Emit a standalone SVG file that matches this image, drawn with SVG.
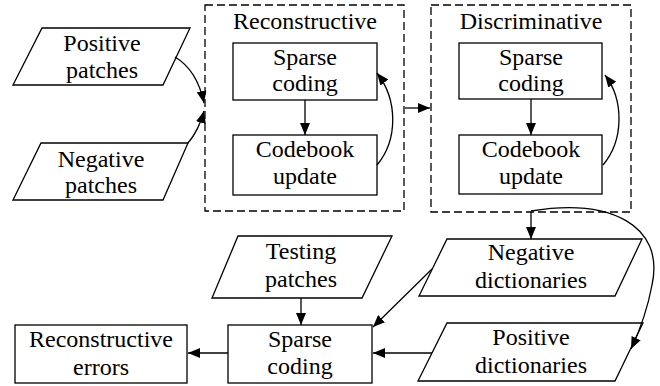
<svg xmlns="http://www.w3.org/2000/svg" width="660" height="386" viewBox="0 0 660 386">
<style>
.s{fill:#fff;stroke:#000;stroke-width:1.3}
.d{fill:none;stroke:#000;stroke-width:1.3;stroke-dasharray:8,4}
.c{fill:none;stroke:#000;stroke-width:1.3;marker-end:url(#ah)}
text{font-family:"Liberation Serif","Times New Roman",serif;font-size:24px;fill:#000;text-anchor:middle}
</style>
<defs>
<marker id="ah" markerUnits="userSpaceOnUse" markerWidth="12" markerHeight="10" refX="12" refY="5" orient="auto">
<path d="M0,0 L12,5 L0,10 z" fill="#000"/>
</marker>
</defs>
<rect width="660" height="386" fill="#fff"/>
<g id="reconstructive-group">
<rect class="d" x="205" y="5" width="199" height="206"/>
<text x="305" y="29">Reconstructive</text>
</g>
<g id="discriminative-group">
<rect class="d" x="431" y="5" width="200" height="207"/>
<text x="531" y="29">Discriminative</text>
</g>
<g id="positive-patches">
<polygon class="s" points="42,28 190,28 163,85 13,85"/>
<text x="102" y="51">Positive</text>
<text x="102" y="78">patches</text>
</g>
<g id="negative-patches">
<polygon class="s" points="41,143 188,143 163,200 13,200"/>
<text x="101" y="167">Negative</text>
<text x="101" y="193">patches</text>
</g>
<g id="r-sparse">
<rect class="s" x="233" y="43" width="144" height="57"/>
<text x="305" y="65">Sparse</text>
<text x="305" y="91">coding</text>
</g>
<g id="r-codebook">
<rect class="s" x="233" y="135" width="144" height="60"/>
<text x="305" y="157">Codebook</text>
<text x="305" y="184">update</text>
</g>
<g id="d-sparse">
<rect class="s" x="459" y="43" width="143" height="56"/>
<text x="531" y="65">Sparse</text>
<text x="531" y="91">coding</text>
</g>
<g id="d-codebook">
<rect class="s" x="459" y="135" width="143" height="59"/>
<text x="531" y="157">Codebook</text>
<text x="531" y="184">update</text>
</g>
<g id="testing-patches">
<polygon class="s" points="238,236 392,236 362,298 212,298"/>
<text x="301" y="259">Testing</text>
<text x="301" y="287">patches</text>
</g>
<g id="negative-dictionaries">
<polygon class="s" points="447,239 642,239 615,296 419,296"/>
<text x="531" y="260">Negative</text>
<text x="531" y="288">dictionaries</text>
</g>
<g id="positive-dictionaries">
<polygon class="s" points="447,323 643,323 615,381 418,381"/>
<text x="531" y="345">Positive</text>
<text x="531" y="373">dictionaries</text>
</g>
<g id="test-sparse">
<rect class="s" x="228" y="325" width="144" height="58"/>
<text x="300" y="347">Sparse</text>
<text x="300" y="374">coding</text>
</g>
<g id="reconstructive-errors">
<rect class="s" x="15" y="325" width="172" height="58"/>
<text x="101" y="347">Reconstructive</text>
<text x="101" y="375">errors</text>
</g>
<g id="connectors">
<path class="c" d="M175,57 Q197,70 204,103"/>
<path class="c" d="M188,143 Q199,130 204,111"/>
<path class="c" d="M305,100 L305,135"/>
<path class="c" d="M377,165 C398,140 398,100 377,73"/>
<path class="c" d="M405,108 L430,108"/>
<path class="c" d="M531,99 L531,135"/>
<path class="c" d="M603,165 C624,140 624,100 605,75"/>
<path class="c" d="M531,212 L531,239"/>
<path class="c" d="M531,211 C610,198 665,225 652,285 C647,312 640,330 631,349"/>
<path class="c" d="M432,269 L373,327"/>
<path class="c" d="M432,353 L373,353"/>
<path class="c" d="M301,298 L301,325"/>
<path class="c" d="M228,353 L188,353"/>
</g>
</svg>
